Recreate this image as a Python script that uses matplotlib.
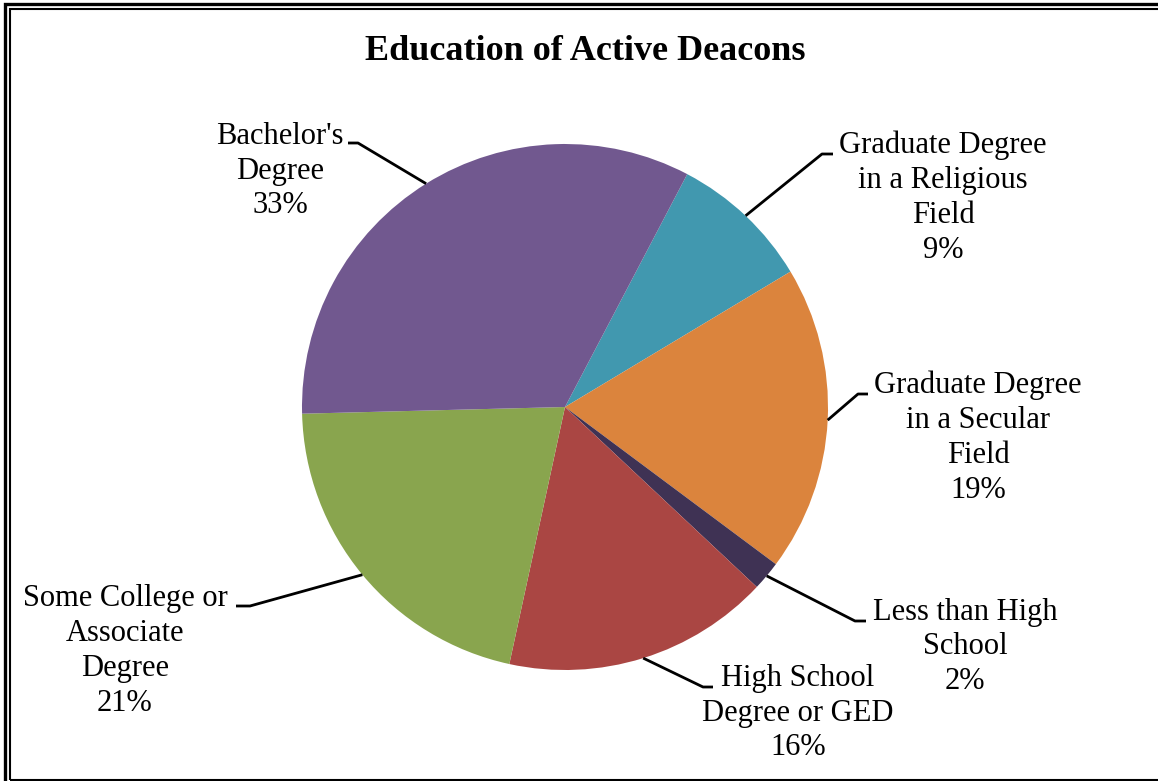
import matplotlib.pyplot as plt
from matplotlib.patches import Rectangle
import numpy as np

categories = ["Graduate Degree\nin a Religious\nField",
              "Graduate Degree\nin a Secular\nField",
              "Less than High\nSchool",
              "High School\nDegree or GED",
              "Some College or\nAssociate\nDegree",
              "Bachelor's\nDegree"]
values = [8.7, 18.8, 1.8, 16.4, 21.2, 33.1]
colors = ["#4198AF", "#DB843D", "#3F3254", "#AA4643", "#89A54E", "#71588F"]

W, H = 1158, 781
fig = plt.figure(figsize=(W / 100, H / 100), dpi=100)
ax = fig.add_axes([0, 0, 1, 1])

def py(y):
    return H - y

cx, cy, r = 565, py(407), 263
wedges, _ = ax.pie(values, colors=colors, startangle=62.3, counterclock=False,
                   center=(cx, cy), radius=r, frame=True,
                   wedgeprops=dict(linewidth=0))
ax.set_xlim(0, W)
ax.set_ylim(0, H)
ax.set_aspect("equal")
ax.axis("off")

# label layout (pixel positions)
elbows = [(822, 154), (858, 394), (855, 621), (703, 687), (250, 606), (358, 143)]
ends = [(833, 154), (868, 394), (866, 621), (713, 687), (236, 606), (348, 143)]
text_pos = [(943, 198), (978, 438), (965, 647), (798, 713), (125, 651), (280, 171)]

font = "Liberation Serif"
for w, lab, v, el, en, tp in zip(wedges, categories, values, elbows, ends, text_pos):
    mid = np.deg2rad((w.theta1 + w.theta2) / 2)
    x0, y0 = cx + r * np.cos(mid), cy + r * np.sin(mid)
    ax.plot([x0, el[0], en[0]], [y0, py(el[1]), py(en[1])], color="black", lw=2.0,
            solid_capstyle="butt")
    ax.text(tp[0], py(tp[1]), f"{lab}\n{round(v):d}%", ha="center", va="center",
            fontsize=22, family=font, linespacing=1.27)

ax.text(585, py(51), "Education of Active Deacons", ha="center", va="center",
        fontsize=26, fontweight="bold", family=font)

# double border
ax.add_patch(Rectangle((5, py(787)), 1161, 783, fill=False, lw=2.4, ec="black",
                       clip_on=False))
ax.add_patch(Rectangle((10, py(780)), 1161, 771, fill=False, lw=1.5, ec="black",
                       clip_on=False))

fig.savefig("out.png", dpi=100)
